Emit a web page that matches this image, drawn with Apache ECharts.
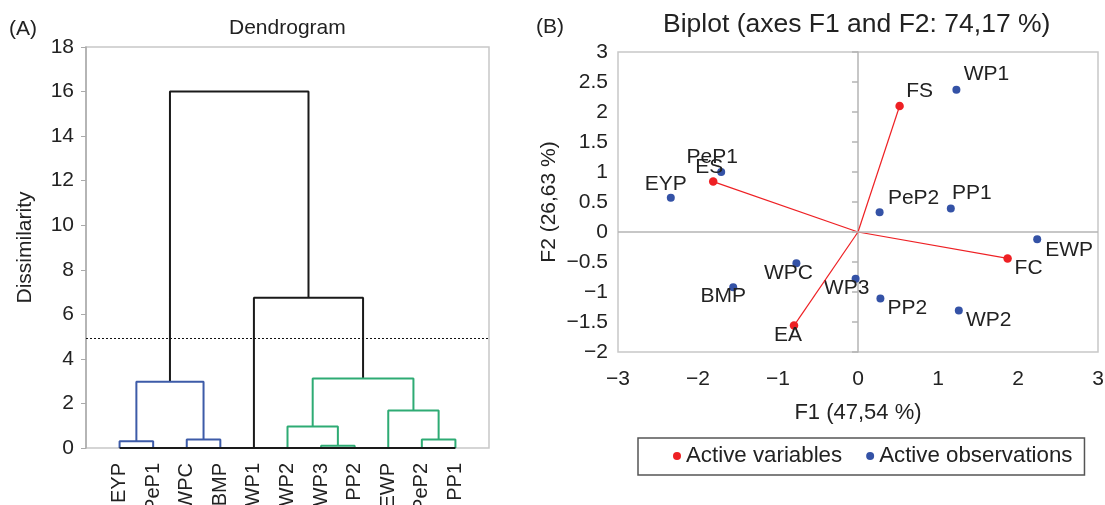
<!DOCTYPE html>
<html>
<head>
<meta charset="utf-8">
<script src="https://cdn.jsdelivr.net/npm/echarts@6/dist/echarts.min.js"></script>
<style>
  html, body { margin: 0; padding: 0; background: #fff; }
  #chart { width: 1105px; height: 505px; }
</style>
</head>
<body>
<div id="chart"></div>
<script>
// (A) dendrogram: leaves in display order, merges as [left node, right node, height]
// nodes 0..10 are leaves, 11.. are merges in order
const leaves = ['EYP', 'PeP1', 'WPC', 'BMP', 'WP1', 'WP2', 'WP3', 'PP2', 'EWP', 'PeP2', 'PP1'];
const merges = [
  [0, 1, 0.30],
  [2, 3, 0.38],
  [11, 12, 2.97],
  [6, 7, 0.10],
  [5, 14, 0.96],
  [9, 10, 0.38],
  [8, 16, 1.68],
  [15, 17, 3.12],
  [4, 18, 6.75],
  [13, 19, 16.0]
];
const cutHeight = 4.93;

// (B) biplot
const varNames = ['FS', 'ES', 'FC', 'EA'];
const varX = [0.52, -1.81, 1.87, -0.80];
const varY = [2.10, 0.84, -0.44, -1.56];
const obsNames = ['WP1', 'PeP1', 'EYP', 'PeP2', 'PP1', 'EWP', 'WPC', 'BMP', 'WP3', 'PP2', 'WP2'];
const obsX = [1.23, -1.71, -2.34, 0.27, 1.16, 2.24, -0.77, -1.56, -0.03, 0.28, 1.26];
const obsY = [2.37, 1.00, 0.57, 0.33, 0.39, -0.12, -0.52, -0.92, -0.78, -1.11, -1.31];

// label placement (px offset from the point)
const labelOffset = {
  FS: [20, -15], ES: [-4, -14], FC: [21, 10], EA: [-6, 10],
  WP1: [30, -16], PeP1: [-9, -15], EYP: [-5, -14], PeP2: [34, -14], PP1: [21, -15],
  EWP: [32, 11], WPC: [-8, 10], BMP: [-10, 9], WP3: [-9, 9], PP2: [27, 10], WP2: [30, 10]
};

const FONT = '"Liberation Sans", Arial, sans-serif';
const TXT = '#222';
const GRAY = '#b4b4b4';
const RED = '#ee2024';
const BLUE = '#3452a6';
const clusterColors = ['#3d5ba8', '#2eab74'];
const minus = v => String(v).replace('-', '\u2212');

// dendrogram segments
const n = leaves.length;
const pos = leaves.map((_, i) => i);
const hgt = leaves.map(() => 0);
merges.forEach(([a, b, h]) => {
  pos.push((pos[a] + pos[b]) / 2);
  hgt.push(h);
});

const series = [];
let ci = 0;
function walk(id, col) {
  if (id < n) return;
  const [a, b, h] = merges[id - n];
  if (!col && h < cutHeight) col = clusterColors[ci++];
  series.push({
    type: 'line', xAxisIndex: 0, yAxisIndex: 0, symbol: 'none', silent: true,
    data: [[pos[a], hgt[a]], [pos[a], h], [pos[b], h], [pos[b], hgt[b]]],
    lineStyle: { color: col || '#1a1a1a', width: 2 }
  });
  walk(a, col);
  walk(b, col);
}
walk(n + merges.length - 1, null);

// baseline under the leaves + cut line
series.push({
  type: 'line', xAxisIndex: 0, yAxisIndex: 0, symbol: 'none', silent: true,
  data: [[0, 0], [n - 1, 0]],
  lineStyle: { color: '#1a1a1a', width: 2 },
  markLine: {
    symbol: 'none', silent: true, label: { show: false },
    lineStyle: { color: '#111', width: 1, type: [2, 2] },
    data: [{ yAxis: cutHeight }]
  }
});

// biplot: horizontal zero line
series.push({
  type: 'line', xAxisIndex: 1, yAxisIndex: 1, data: [], z: 1, silent: true,
  markLine: {
    symbol: 'none', silent: true, label: { show: false },
    lineStyle: { color: GRAY, width: 1.5, type: 'solid' },
    data: [{ yAxis: 0 }]
  }
});

// vectors from origin
varNames.forEach((name, i) => {
  series.push({
    type: 'line', xAxisIndex: 1, yAxisIndex: 1, symbol: 'none', silent: true,
    data: [[0, 0], [varX[i], varY[i]]],
    lineStyle: { color: RED, width: 1.2 }
  });
});

const pointLabel = {
  show: true, position: 'inside', formatter: '{b}', fontSize: 21,
  color: TXT, opacity: 1, textBorderWidth: 0, textBorderColor: 'transparent'
};

series.push({
  name: 'Active variables', type: 'scatter', xAxisIndex: 1, yAxisIndex: 1,
  symbolSize: 8.5, itemStyle: { color: RED, opacity: 1 }, label: pointLabel,
  data: varNames.map((name, i) => ({ name, value: [varX[i], varY[i]], label: { offset: labelOffset[name] } }))
});
series.push({
  name: 'Active observations', type: 'scatter', xAxisIndex: 1, yAxisIndex: 1,
  symbolSize: 8, itemStyle: { color: BLUE, opacity: 1 }, label: pointLabel,
  data: obsNames.map((name, i) => ({ name, value: [obsX[i], obsY[i]], label: { offset: labelOffset[name] } }))
});

const titleStyle = (size) => ({ fontSize: size, fontWeight: 'normal', color: TXT, fontFamily: FONT });

const option = {
  animation: false,
  textStyle: { fontFamily: FONT },
  title: [
    { text: '(A)', left: 9, top: 19, padding: 0, textStyle: titleStyle(21) },
    { text: 'Dendrogram', left: 229, top: 18, padding: 0, textStyle: titleStyle(21) },
    { text: '(B)', left: 536, top: 17, padding: 0, textStyle: titleStyle(21) },
    { text: 'Biplot (axes F1 and F2: 74,17 %)', left: 663, top: 11, padding: 0, textStyle: titleStyle(26.5) }
  ],
  legend: {
    data: ['Active variables', 'Active observations'],
    left: 638, top: 438,
    icon: 'circle', itemWidth: 8, itemHeight: 8, itemGap: 24,
    padding: [7, 12, 8, 35],
    borderColor: '#555', borderWidth: 1.5,
    textStyle: { fontSize: 22.3, color: TXT }
  },
  grid: [
    { left: 86, top: 47, width: 403, height: 401, show: true, borderColor: '#c8c8c8', borderWidth: 1.5, outerBoundsMode: 'none' },
    { left: 618, top: 52, width: 480, height: 300, show: true, borderColor: '#c8c8c8', borderWidth: 1.5, outerBoundsMode: 'none' }
  ],
  xAxis: [
    {
      type: 'value', gridIndex: 0, min: -1, max: 11, interval: 1,
      axisLine: { show: false }, axisTick: { show: false }, splitLine: { show: false },
      axisLabel: { rotate: 90, fontSize: 20, color: TXT, margin: 15, formatter: v => leaves[v] || '' }
    },
    {
      type: 'value', gridIndex: 1, min: -3, max: 3, interval: 1,
      name: 'F1 (47,54 %)', nameLocation: 'middle', nameGap: 50,
      nameTextStyle: { fontSize: 22, color: TXT },
      axisLine: { show: false, onZero: false }, axisTick: { show: false }, splitLine: { show: false },
      axisLabel: { fontSize: 21, color: TXT, margin: 17, formatter: minus }
    }
  ],
  yAxis: [
    {
      type: 'value', gridIndex: 0, min: 0, max: 18, interval: 2,
      name: 'Dissimilarity', nameLocation: 'middle', nameGap: 50,
      nameTextStyle: { fontSize: 21, color: TXT },
      axisLine: { show: true, onZero: false, lineStyle: { color: '#aaa', width: 1.5 } },
      axisTick: { show: true, length: 5, lineStyle: { color: '#aaa' } },
      splitLine: { show: false },
      axisLabel: { fontSize: 21, color: TXT, margin: 12 }
    },
    {
      type: 'value', gridIndex: 1, min: -2, max: 3, interval: 0.5,
      name: 'F2 (26,63 %)', nameLocation: 'middle', nameGap: 58,
      nameTextStyle: { fontSize: 21, color: TXT },
      axisLine: { show: false, onZero: false }, axisTick: { show: false }, splitLine: { show: false },
      axisLabel: { fontSize: 21, color: TXT, margin: 10, formatter: minus }
    },
    {
      // vertical zero line with its ticks
      type: 'value', gridIndex: 1, min: -2, max: 3, interval: 0.5, position: 'left',
      axisLine: { show: true, onZero: true, lineStyle: { color: GRAY, width: 1.5 } },
      axisTick: { show: true, length: 6, lineStyle: { color: GRAY, width: 1.5 } },
      axisLabel: { show: false }, splitLine: { show: false }
    }
  ],
  series: series
};

const chart = echarts.init(document.getElementById('chart'));
chart.setOption(option);
window.addEventListener('resize', () => chart.resize());
</script>
</body>
</html>
